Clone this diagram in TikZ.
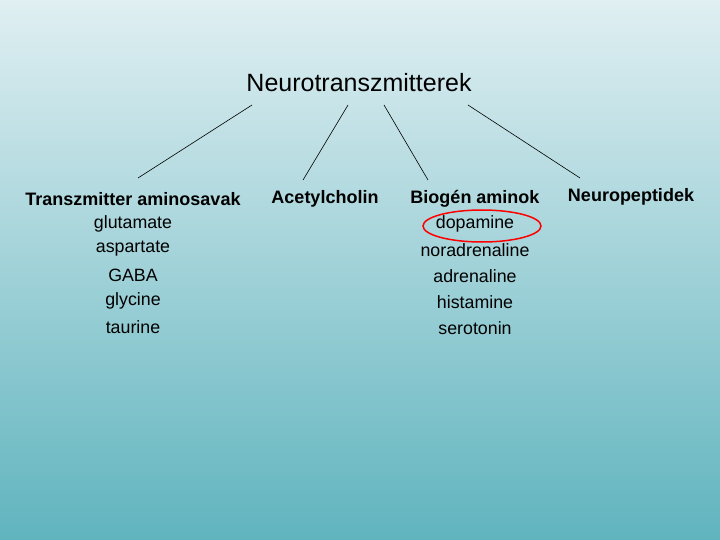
\documentclass[tikz,border=0pt]{standalone}
\usepackage{fontspec}
\setmainfont{Liberation Sans}
\definecolor{topc}{RGB}{224,239,242}
\definecolor{botc}{RGB}{96,180,190}
\begin{document}
\begin{tikzpicture}[x=1pt,y=-1pt,
  txt/.style={font=\fontsize{17.8}{20}\selectfont,inner sep=0pt,anchor=center},
  hd/.style={txt,font=\fontsize{18}{20}\selectfont\bfseries},
  ln/.style={black,line width=0.6pt}]
\shade[top color=topc,bottom color=botc] (0,0) rectangle (720,540);
\useasboundingbox (0,0) rectangle (720,540);
\node[txt,font=\fontsize{25}{28}\selectfont] (t) at (359,83) {Neurotranszmitterek};
\coordinate (a1) at (252,105); \coordinate (a2) at (138,178);
\coordinate (b1) at (348,105); \coordinate (b2) at (303,180);
\coordinate (c1) at (384,105); \coordinate (c2) at (428,180);
\coordinate (d1) at (468,105); \coordinate (d2) at (580,178);
\draw[ln] (a1)--(a2); \draw[ln] (b1)--(b2); \draw[ln] (c1)--(c2); \draw[ln] (d1)--(d2);
\node[hd] (h1) at (133,199) {Transzmitter aminosavak};
\node[txt] (g1) at (133,224) {glutamate};
\node[txt] (g2) at (133,249) {aspartate};
\node[txt] (g3) at (133,275) {GABA};
\node[txt] (g4) at (133,301) {glycine};
\node[txt] (g5) at (133,327) {taurine};
\node[hd] (h2) at (325,199) {Acetylcholin};
\node[hd] (h3) at (475,199) {Biogén aminok};
\node[txt] (m1) at (475,224) {dopamine};
\node[txt] (m2) at (475,250) {noradrenaline};
\node[txt] (m3) at (475,276) {adrenaline};
\node[txt] (m4) at (475,302) {histamine};
\node[txt] (m5) at (475,328) {serotonin};
\node[hd] (h4) at (631,197) {Neuropeptidek};
\draw[red,line width=1.5pt] (482,226) ellipse [x radius=59,y radius=16];
\end{tikzpicture}
\end{document}
